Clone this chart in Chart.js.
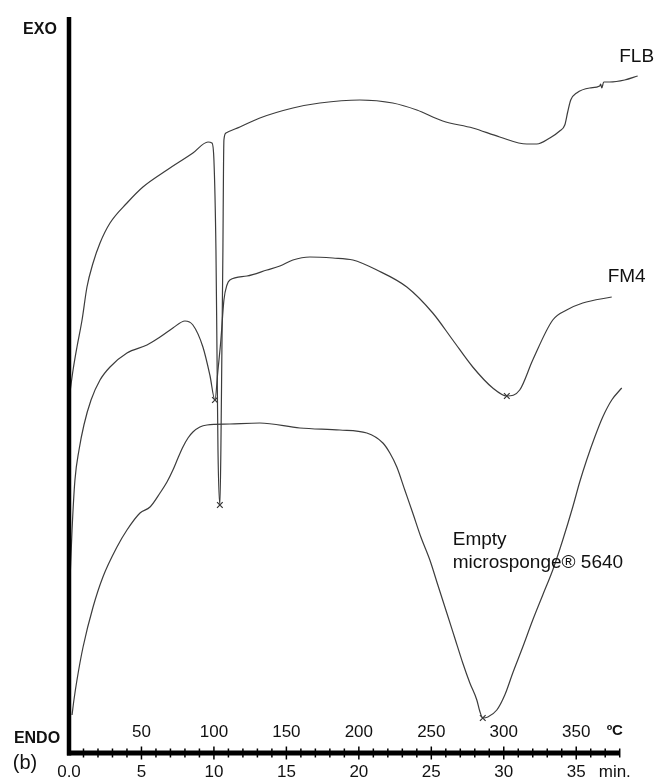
<!DOCTYPE html>
<html>
<head>
<meta charset="utf-8">
<script src="https://cdn.jsdelivr.net/npm/chart.js@4.4.0/dist/chart.umd.min.js"></script>
<style>
  body { margin: 0; background: #fff; }
  #dsc { display: block; }
</style>
</head>
<body>
<canvas id="dsc" width="657" height="778"></canvas>
<script>
// DSC traces, time in min, heat flow in arbitrary units
var flbTime = [0.07, 0.28, 0.55, 0.90, 1.24, 1.66, 2.14, 2.83, 4.00, 5.10, 6.76, 8.55, 9.59, 9.86,
  10.00, 10.14, 10.21, 10.28, 10.41, 10.48, 10.55, 10.62, 10.66, 10.69, 10.83, 11.79, 13.17, 15.45,
  17.31, 20.07, 22.34, 24.00, 25.79, 27.86, 29.72, 31.59, 32.28, 33.17, 33.86, 34.21, 34.41, 34.62,
  35.03, 35.93, 36.62, 36.69, 36.76, 36.90, 37.31, 38.34, 39.24];
var flbHeat = [361, 383, 406, 433, 466, 490, 510, 530, 550, 566, 583, 600, 611, 610,
  593, 503, 403, 303, 248, 303, 403, 503, 583, 613, 620, 626, 635, 645,
  650, 653, 650, 643, 632, 625, 616, 609, 609, 615, 622, 628, 641, 653,
  660, 665, 667, 669, 665, 671, 671, 673, 677];

var fm4Time = [0.07, 0.21, 0.41, 0.69, 1.03, 1.52, 2.14, 2.83, 4.00, 5.38, 6.28, 7.17, 8.00, 8.55,
  9.24, 9.72, 10.07, 10.28, 10.48, 10.69, 10.90, 11.10, 12.28, 13.66, 14.55, 15.45, 16.62, 18.21,
  19.59, 21.24, 23.31, 25.10, 26.48, 27.86, 29.24, 30.21, 31.10, 32.00, 33.38, 34.34, 35.45, 37.45];
var fm4Heat = [173, 223, 273, 303, 328, 353, 373, 386, 400, 408, 416, 425, 432, 428,
  406, 378, 353, 383, 413, 453, 468, 473, 477, 483, 487, 493, 496, 495,
  493, 483, 466, 440, 413, 386, 365, 357, 363, 393, 433, 443, 450, 456];

var emptyTime = [0.21, 0.34, 0.55, 0.97, 1.66, 2.34, 3.31, 4.00, 4.90, 5.59, 6.28, 6.76, 7.17, 7.52,
  7.86, 8.21, 8.55, 9.03, 9.52, 11.10, 13.17, 15.93, 18.69, 20.55, 21.66, 22.14, 22.62, 23.17,
  23.72, 24.28, 24.90, 25.45, 26.07, 26.62, 27.17, 27.66, 28.14, 28.34, 28.55, 28.90, 29.52, 30.07,
  30.62, 31.31, 32.00, 32.69, 33.38, 34.07, 34.76, 35.24, 35.72, 36.28, 36.83, 37.45, 38.14];
var emptyHeat = [38, 53, 73, 106, 146, 176, 206, 223, 240, 246, 260, 271, 283, 295,
  306, 315, 321, 326, 328, 329, 330, 325, 323, 320, 310, 300, 286, 263,
  240, 216, 193, 168, 140, 115, 90, 70, 53, 42, 35, 36, 43, 58,
  80, 106, 133, 158, 183, 213, 246, 271, 293, 316, 336, 353, 365];

// peak markers (x) on the traces
var peakTime = [10.41, 10.07, 30.21, 28.55];
var peakHeat = [248, 353, 357, 35];

// axis labels
var minuteTicks = [0, 5, 10, 15, 20, 25, 30, 35];
var minuteLabels = ['0.0', '5', '10', '15', '20', '25', '30', '35'];
var tempLabels = [50, 100, 150, 200, 250, 300, 350];

function toPoints(ts, vs) {
  var pts = [];
  for (var i in ts) {
    pts.push({ x: ts[i], y: vs[i] });
  }
  return pts;
}

var FONT = '"Liberation Sans", Arial, sans-serif';
var traceColor = '#3c3c3c';

function trace(label, ts, vs) {
  return {
    label: label,
    data: toPoints(ts, vs),
    borderColor: traceColor,
    borderWidth: 1.2,
    pointRadius: 0,
    fill: false,
    cubicInterpolationMode: 'monotone'
  };
}

// axes, ticks and text drawn from the chart scales
var dscAxes = {
  id: 'dscAxes',
  afterDatasetsDraw: function(chart) {
    var ctx = chart.ctx;
    var xs = chart.scales.x;
    var ys = chart.scales.y;
    var x0 = xs.getPixelForValue(0);
    var yb = ys.getPixelForValue(0);
    var xEnd = xs.getPixelForValue(38);

    ctx.save();
    ctx.strokeStyle = '#000';
    ctx.lineCap = 'butt';

    // vertical axis
    ctx.lineWidth = 4.5;
    ctx.beginPath();
    ctx.moveTo(x0, ys.getPixelForValue(736));
    ctx.lineTo(x0, yb + 2.5);
    ctx.stroke();

    // time axis
    ctx.lineWidth = 5;
    ctx.beginPath();
    ctx.moveTo(x0 - 2, yb);
    ctx.lineTo(xEnd, yb);
    ctx.stroke();

    // minute ticks
    ctx.lineWidth = 1.5;
    for (var m = 1; m <= 38; m++) {
      var px = xs.getPixelForValue(m);
      var h = (m % 5 === 0) ? 6.5 : 4.5;
      ctx.beginPath();
      ctx.moveTo(px, yb - h);
      ctx.lineTo(px, yb + h);
      ctx.stroke();
    }

    ctx.fillStyle = '#111';
    ctx.textAlign = 'center';
    ctx.textBaseline = 'middle';

    ctx.font = '17px ' + FONT;
    for (var i in minuteTicks) {
      ctx.fillText(minuteLabels[i], xs.getPixelForValue(minuteTicks[i]), yb + 19);
    }
    for (var j in tempLabels) {
      ctx.fillText(String(tempLabels[j]), xs.getPixelForValue(tempLabels[j] / 10), yb - 21);
    }
    ctx.fillText('min.', xs.getPixelForValue(37.66), yb + 19);

    ctx.font = 'bold 15px ' + FONT;
    ctx.fillText('\u00baC', xs.getPixelForValue(37.66), yb - 22);

    ctx.font = 'bold 16px ' + FONT;
    ctx.fillText('EXO', 40, 30);
    ctx.fillText('ENDO', 37, yb - 14);

    ctx.font = '20px ' + FONT;
    ctx.fillText('(b)', 25, yb + 10);

    // trace names
    ctx.font = '19px ' + FONT;
    ctx.fillText('FLB', xs.getPixelForValue(39.17), ys.getPixelForValue(696));
    ctx.fillText('FM4', xs.getPixelForValue(38.48), ys.getPixelForValue(476));
    ctx.textAlign = 'left';
    ctx.fillText('Empty', xs.getPixelForValue(26.48), ys.getPixelForValue(213));
    ctx.fillText('microsponge\u00ae 5640', xs.getPixelForValue(26.48), ys.getPixelForValue(190));

    ctx.restore();
  }
};

new Chart(document.getElementById('dsc'), {
  type: 'line',
  data: {
    datasets: [
      trace('FLB', flbTime, flbHeat),
      trace('FM4', fm4Time, fm4Heat),
      trace('Empty microsponge 5640', emptyTime, emptyHeat),
      {
        label: 'peaks',
        data: toPoints(peakTime, peakHeat),
        showLine: false,
        pointStyle: 'crossRot',
        pointRadius: 4,
        pointBorderColor: '#333',
        pointBorderWidth: 1.2
      }
    ]
  },
  options: {
    responsive: false,
    devicePixelRatio: 1,
    animation: false,
    layout: { padding: { left: 69, right: 17, top: 17, bottom: 25 } },
    plugins: {
      legend: { display: false },
      tooltip: { enabled: false }
    },
    scales: {
      x: { type: 'linear', min: 0, max: 39.4, display: false },
      y: { type: 'linear', min: 0, max: 736, display: false }
    }
  },
  plugins: [dscAxes]
});
</script>
</body>
</html>
